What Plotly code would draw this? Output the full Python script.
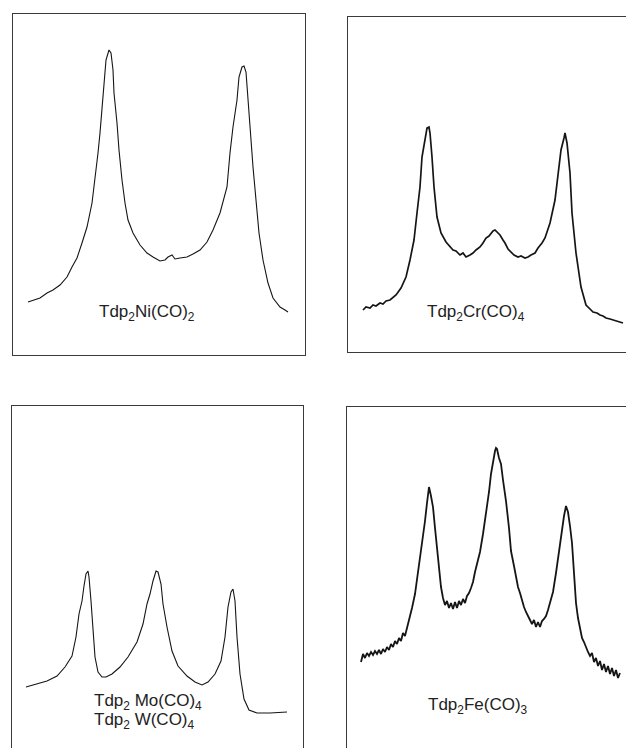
import plotly.graph_objects as go

# ---------------- data (arbitrary position / intensity units) -------------
ni_x = [15, 20, 27, 34, 40, 47, 54, 59, 64, 69, 74, 79, 82, 85, 87, 89, 91, 93, 96, 98, 100, 101,
        104, 106, 109, 112, 115, 120, 127, 134, 140, 147, 152, 155, 159, 162, 167, 174, 180, 187,
        194, 200, 207, 214, 217, 220, 224, 226, 229, 231, 233, 235, 238, 240, 243, 246, 250, 255,
        260, 267, 272, 275]
ni_y = [53, 55, 57, 62, 65, 70, 78, 88, 97, 112, 128, 152, 175, 202, 222, 248, 275, 295, 305, 302,
        285, 262, 232, 205, 175, 152, 135, 122, 110, 102, 98, 94, 95, 98, 100, 96, 97, 98, 101, 105,
        113, 125, 142, 168, 202, 228, 255, 278, 288, 289, 283, 255, 222, 188, 155, 122, 95, 72, 57,
        48, 45, 43]

cr_x = [15, 18, 22, 25, 28, 32, 35, 38, 42, 45, 48, 53, 58, 62, 66, 69, 72, 74, 77, 79, 81, 82, 84,
        86, 89, 93, 98, 102, 105, 108, 112, 115, 118, 122, 125, 128, 132, 135, 138, 141, 143, 145,
        147, 149, 152, 155, 157, 160, 163, 166, 170, 173, 177, 180, 183, 187, 190, 194, 197, 202,
        207, 211, 213, 216, 217, 219, 222, 224, 228, 233, 238, 242, 245, 249, 252, 255, 258, 262,
        265, 268, 271, 275]
cr_y = [42, 45, 44, 47, 46, 49, 48, 51, 52, 55, 57, 64, 75, 92, 112, 139, 165, 195, 212, 224, 225,
        219, 195, 165, 135, 119, 110, 106, 102, 101, 97, 99, 95, 97, 99, 102, 105, 109, 114, 116, 119,
        121, 122, 120, 117, 112, 109, 103, 100, 97, 95, 96, 94, 95, 97, 99, 104, 109, 114, 129,
        152, 185, 202, 214, 219, 209, 179, 139, 99, 65, 47, 43, 40, 39, 37, 36, 34, 33, 32, 31, 30,
        29]

mo_x = [14, 25, 35, 45, 53, 60, 64, 67, 70, 72, 74, 76, 77, 79, 81, 83, 86, 90, 94, 100, 108, 116,
        125, 131, 135, 138, 141, 144, 146, 149, 151, 155, 160, 166, 175, 183, 190, 196, 203, 209,
        213, 216, 219, 221, 223, 225, 228, 232, 237, 245, 258, 275]
mo_y = [61, 64, 67, 72, 81, 92, 111, 134, 147, 162, 174, 177, 171, 147, 117, 91, 76, 71, 71, 74,
        81, 91, 106, 124, 144, 154, 167, 177, 176, 164, 144, 121, 97, 82, 72, 66, 63, 66, 74, 87,
        111, 141, 156, 159, 147, 111, 74, 49, 38, 35, 35, 36]

fe_x = [14, 16, 18, 20, 22, 24, 26, 28, 30, 32, 34, 36, 38, 40, 42, 44, 46, 48, 50, 52, 54, 56, 58,
        60, 62, 65, 68, 70, 73, 75, 78, 80, 82, 84, 86, 88, 90, 92, 94, 96, 98, 100, 102, 104, 106,
        108, 110, 112, 114, 116, 118, 120, 122, 124, 126, 128, 130, 133, 136, 139, 142, 144, 146,
        148, 149, 150, 152, 154, 156, 159, 162, 164, 167, 169, 171, 173, 175, 177, 179, 181, 183,
        185, 187, 189, 191, 193, 195, 197, 199, 201, 203, 206, 209, 211, 213, 215, 217, 219, 221,
        223, 225, 227, 229, 231, 233, 235, 237, 239, 241, 243, 245, 247, 249, 251, 253, 255, 257,
        259, 261, 263, 265, 267, 269, 271, 273]
fe_y = [86, 94, 90, 95, 92, 96, 93, 97, 94, 98, 94, 99, 96, 101, 98, 104, 101, 107, 104, 110, 107,
        115, 112, 120, 125, 140, 154, 168, 187, 205, 227, 245, 261, 252, 241, 220, 201, 178, 161,
        150, 143, 147, 140, 145, 139, 146, 140, 147, 143, 149, 145, 152, 155, 160, 166, 176, 184,
        196, 214, 234, 256, 274, 288, 297, 300, 299, 290, 284, 268, 247, 220, 197, 182, 170, 161,
        155, 147, 141, 136, 131, 128, 124, 128, 121, 126, 121, 127, 129, 132, 138, 145, 156, 175,
        190, 202, 218, 232, 242, 236, 222, 205, 175, 145, 130, 120, 110, 106, 100, 96, 92, 95, 86,
        90, 82, 87, 78, 84, 76, 82, 74, 80, 72, 78, 70, 75]

labels = ["Tdp<sub>2</sub>Ni(CO)<sub>2</sub>",
          "Tdp<sub>2</sub>Cr(CO)<sub>4</sub>",
          "Tdp<sub>2</sub> Mo(CO)<sub>4</sub>",
          "Tdp<sub>2</sub> W(CO)<sub>4</sub>",
          "Tdp<sub>2</sub>Fe(CO)<sub>3</sub>"]

# ---------------- layout -------------
W, H = 626, 748
INK = "#151515"
FRAME = "#3a3a3a"

# panel boxes in page pixels: left, right, top, bottom
boxes = [(13, 305, 14, 355), (348, 626, 17, 352), (12, 303, 406, 748), (347, 626, 407, 748)]


def dom(b):
    l, r, t, btm = b
    return [l / W, r / W], [1 - btm / H, 1 - t / H]


fig = go.Figure()
series = [(ni_x, ni_y, 1.1), (cr_x, cr_y, 1.7), (mo_x, mo_y, 1.1), (fe_x, fe_y, 1.8)]
for i, (xs, ys, lw) in enumerate(series):
    sfx = "" if i == 0 else str(i + 1)
    fig.add_trace(go.Scatter(x=xs, y=ys, mode="lines", line=dict(color=INK, width=lw),
                             xaxis="x" + sfx, yaxis="y" + sfx, hoverinfo="skip",
                             showlegend=False))

# sides of each frame visible on the page
frame_opts = [
    dict(xside="bottom", xmirror=True, ymirror=True),
    dict(xside="bottom", xmirror=True, ymirror=False),
    dict(xside="top", xmirror=False, ymirror=True),
    dict(xside="top", xmirror=False, ymirror=False),
]

layout = dict(width=W, height=H, margin=dict(l=0, r=0, t=0, b=0),
              paper_bgcolor="white", plot_bgcolor="white", showlegend=False)
for i, b in enumerate(boxes):
    sfx = "" if i == 0 else str(i + 1)
    dx, dy = dom(b)
    o = frame_opts[i]
    layout["xaxis" + sfx] = dict(domain=dx, range=[0, b[1] - b[0]], anchor="y" + sfx,
                                 side=o["xside"], showline=True, mirror=o["xmirror"],
                                 linecolor=FRAME, linewidth=1, showgrid=False, zeroline=False,
                                 showticklabels=False, ticks="", fixedrange=True)
    layout["yaxis" + sfx] = dict(domain=dy, range=[0, b[3] - b[2]], anchor="x" + sfx,
                                 showline=True, mirror=o["ymirror"], linecolor=FRAME,
                                 linewidth=1, showgrid=False, zeroline=False,
                                 showticklabels=False, ticks="", fixedrange=True)
fig.update_layout(**layout)

font = dict(family="Liberation Sans, Arial, sans-serif", size=17, color="#222")
ann = [
    dict(text=labels[0], x=134, y=42, xref="x", yref="y", xanchor="center"),
    dict(text=labels[1], x=128, y=39, xref="x2", yref="y2", xanchor="center"),
    dict(text=labels[2], x=80, y=46, xref="x3", yref="y3", xanchor="left"),
    dict(text=labels[3], x=80, y=27, xref="x3", yref="y3", xanchor="left"),
    dict(text=labels[4], x=131, y=42, xref="x4", yref="y4", xanchor="center"),
]
for a in ann:
    fig.add_annotation(showarrow=False, yanchor="middle", font=font, **a)

fig.write_html("out.html", config={"displayModeBar": False},
               post_script="document.body.style.margin='0';"
                           "document.documentElement.style.overflow='hidden';")
